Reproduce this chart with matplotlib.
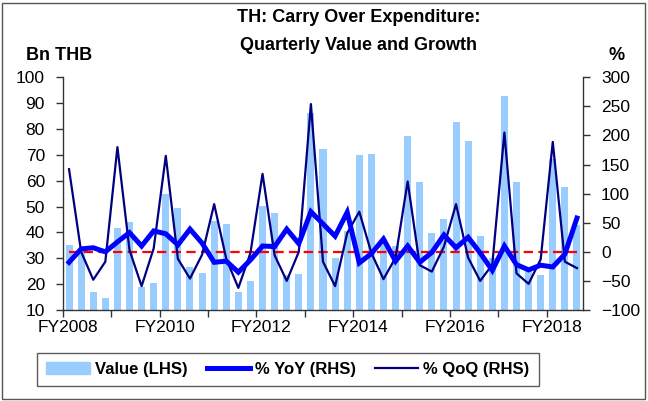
import matplotlib
matplotlib.use("Agg")
import matplotlib.pyplot as plt
import numpy as np
from matplotlib.patches import Rectangle
from matplotlib.lines import Line2D

plt.rcParams['font.family'] = ['Liberation Sans', 'DejaVu Sans']

# Quarterly data FY2008Q1 .. FY2018Q3 (43 quarters)
value_lhs = [35.1, 34.0, 17.1, 14.5, 41.6, 44.0, 18.8, 20.3,
             54.9, 49.6, 26.8, 24.4, 44.5, 43.2, 17.0, 21.3,
             50.2, 47.6, 23.5, 23.9, 86.1, 72.4, 30.3, 40.5,
             69.9, 70.2, 37.5, 34.7, 77.4, 59.5, 39.9, 45.2,
             82.8, 75.5, 38.8, 30.2, 92.8, 59.5, 26.8, 23.5,
             68.5, 57.7, 43.0]
yoy_rhs = [-18, 5, 7, 0, 17, 33, 10, 36,
           31, 12, 39, 15, -18, -16, -35, -14,
           10, 9, 39, 14, 69, 48, 27, 68,
           -19, -3, 22, -16, 10, -18, -1, 29,
           7, 25, -2, -32, 10, -22, -31, -23,
           -26, -4, 58]
qoq_rhs = [142, 0, -48, -17, 180, 3, -59, 6,
           165, -12, -46, -5, 82, -12, -62, -2,
           134, -6, -50, 0, 254, -17, -59, 32,
           69, -2, -47, -10, 121, -23, -34, 9,
           82, -10, -50, -22, 205, -37, -55, -13,
           189, -17, -28]
year_labels = ["FY2008", "FY2010", "FY2012", "FY2014", "FY2016", "FY2018"]

n = len(value_lhs)
x = np.arange(n)

fig = plt.figure(figsize=(6.48, 4.01), dpi=100)
ax = fig.add_axes([63/648, 1-310/401, 520/648, (310-77.3)/401])
ax2 = ax.twinx()

ax.bar(x, value_lhs, width=0.58, color='#99CCFF', zorder=2)
ax.set_ylim(10, 100)
ax.set_yticks(np.arange(10, 101, 10))
ax.set_xlim(-0.5, n - 0.5)

ax2.plot(x, np.zeros(n), color='#FF0000', lw=1.6, ls=(0, (4.2, 2.4)), zorder=3)
ax2.plot(x, qoq_rhs, color='#000080', lw=1.6, zorder=4)
ax2.plot(x, yoy_rhs, color='#0000FF', lw=3.6, zorder=5, solid_joinstyle='miter')
ax2.set_ylim(-100, 300)
ax2.set_yticks(np.arange(-100, 301, 50))

# x ticks at year boundaries, labels every two years
ax.set_xticks(np.arange(-0.5, n, 4))
ax.set_xticklabels([])
ax.set_xticks(np.arange(-0.5, n, 8) + 0.4, minor=True)
ax.set_xticklabels(year_labels, minor=True)
ax.tick_params(axis='x', which='major', length=5, width=1, direction='out', color='#333333')
ax.tick_params(axis='x', which='minor', length=0, pad=7, labelsize=12.5)
ax.tick_params(axis='y', length=5, width=1, direction='out', pad=8, labelsize=12.5, color='#333333')
ax2.tick_params(axis='y', length=5, width=1, direction='out', pad=8, labelsize=12.5, color='#333333')

for a in (ax, ax2):
    a.spines['top'].set_visible(False)
    for s in ('left', 'right', 'bottom'):
        a.spines[s].set_color('#333333')
        a.spines[s].set_linewidth(1)
ax.spines['right'].set_visible(False)
ax2.spines['left'].set_visible(False)
ax2.spines['bottom'].set_visible(False)

fig.text(359/648, 1-17/401, "TH: Carry Over Expenditure:", ha='center', va='center',
         fontsize=13, fontweight='bold')
fig.text(359/648, 1-45/401, "Quarterly Value and Growth", ha='center', va='center',
         fontsize=13, fontweight='bold')
fig.text(59/648, 1-55/401, "Bn THB", ha='center', va='center', fontsize=13, fontweight='bold')
fig.text(617/648, 1-55/401, "%", ha='center', va='center', fontsize=13, fontweight='bold')

handles = [Rectangle((0, 0), 1, 1, color='#99CCFF'),
           Line2D([], [], color='#0000FF', lw=3.6),
           Line2D([], [], color='#000080', lw=1.6)]
leg = fig.legend(handles, ["Value (LHS)", "% YoY (RHS)", "% QoQ (RHS)"],
                 loc='center', bbox_to_anchor=(288/648, 1-369.5/401), ncol=3,
                 frameon=True, fancybox=False, edgecolor='#333333',
                 prop={'weight': 'bold', 'size': 12}, handlelength=2.6,
                 handletextpad=0.3, columnspacing=1.15, borderpad=0.55)
leg.get_frame().set_linewidth(1)

fig.patches.append(Rectangle((2/648, 2/401), 643/648, 396/401, transform=fig.transFigure,
                             fill=False, edgecolor='#555555', lw=1))

fig.savefig("out.png", dpi=100)
